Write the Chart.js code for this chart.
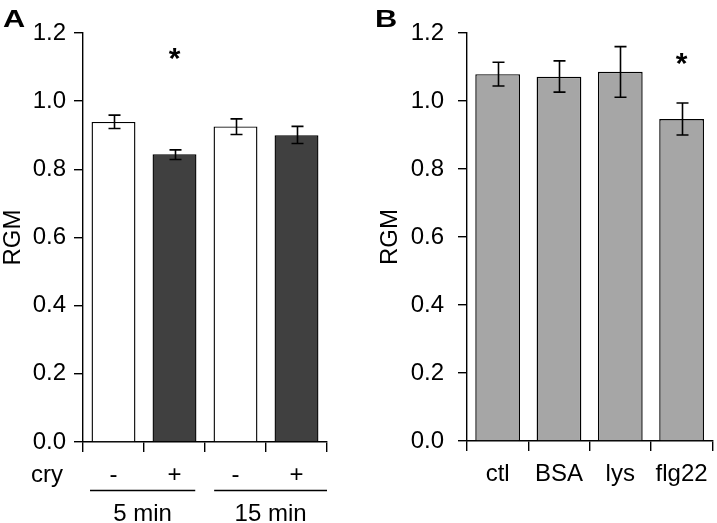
<!DOCTYPE html>
<html><head><meta charset="utf-8">
<script src="https://cdn.jsdelivr.net/npm/chart.js@4"></script>
<style>
html,body{margin:0;padding:0;background:#fff;}
#wrap{position:relative;width:717px;height:523px;overflow:hidden;background:#fff;}
canvas{position:absolute;top:0;}
</style></head><body>
<div id="wrap">
<canvas id="cA" width="358" height="523" style="left:0px"></canvas>
<canvas id="cB" width="359" height="523" style="left:358px"></canvas>
</div>
<script>
// ---- Panel A data ----
const catsA = ['-', '+', '-', '+'];
const meansA = [0.939, 0.844, 0.926, 0.900];
const errLowA = [0.920, 0.829, 0.902, 0.876];
const errHighA = [0.959, 0.857, 0.948, 0.926];
const colorsA = ['#ffffff', '#404040', '#ffffff', '#404040'];
const sigA = [null, 1.147, null, null];
const groupsA = ['5 min', '15 min'];
const groupSpansA = [[-0.385, 1.34], [1.65, 3.5]];  // underline extent in category units
const rowLabelA = 'cry';

// ---- Panel B data ----
const catsB = ['ctl', 'BSA', 'lys', 'flg22'];
const meansB = [1.079, 1.071, 1.086, 0.947];
const errLowB = [1.044, 1.026, 1.011, 0.900];
const errHighB = [1.114, 1.118, 1.160, 0.994];
const colorsB = ['#a6a6a6', '#a6a6a6', '#a6a6a6', '#a6a6a6'];
const sigB = [null, null, null, 1.13];

// ---- shared ----
const yTickLabels = ['0.0', '0.2', '0.4', '0.6', '0.8', '1.0', '1.2'];
const yTitle = 'RGM';

const FONT = "'Liberation Sans', Arial, Helvetica, sans-serif";
const FS = 24;

const annot = {
  id: 'annot',
  afterDatasetsDraw(chart, args, o) {
    const ctx = chart.ctx, xs = chart.scales.x, ys = chart.scales.y;
    ctx.save();
    ctx.strokeStyle = '#000';
    ctx.lineWidth = 1.6;
    o.low.forEach((lo, i) => {
      const x = Math.round(xs.getPixelForValue(i)) + 0.5;
      const y1 = ys.getPixelForValue(lo), y2 = ys.getPixelForValue(o.high[i]);
      ctx.beginPath();
      ctx.moveTo(x, y1); ctx.lineTo(x, y2);
      ctx.moveTo(x - 6, y1); ctx.lineTo(x + 6, y1);
      ctx.moveTo(x - 6, y2); ctx.lineTo(x + 6, y2);
      ctx.stroke();
    });
    // significance stars
    ctx.fillStyle = '#000';
    ctx.font = 'bold 30px ' + FONT;
    ctx.textAlign = 'center';
    ctx.textBaseline = 'alphabetic';
    o.sig.forEach((s, i) => {
      if (s == null) return;
      const x = xs.getPixelForValue(i);
      const y = ys.getPixelForValue(s);
      ctx.fillText('*', x, y + 16.5);
    });
    // panel letter (slightly wide bold face)
    ctx.save();
    ctx.font = 'bold 24px ' + FONT;
    ctx.textAlign = 'left';
    ctx.translate(o.letterX, 27);
    ctx.scale(1.28, 1);
    ctx.fillText(o.letter, 0, 0);
    ctx.restore();
    // grouping row (panel A)
    if (o.groups) {
      const base = xs.top;
      ctx.font = FS + 'px ' + FONT;
      ctx.textAlign = 'center';
      ctx.textBaseline = 'middle';
      ctx.fillText(o.rowLabel, 47, base + 10 + 9 + FS * 0.6);
      ctx.lineWidth = 1.5;
      o.groups.forEach((g, k) => {
        const a = xs.getPixelForValue(o.spans[k][0]), b = xs.getPixelForValue(o.spans[k][1]);
        const yl = Math.round(base + 48) + 0.5;
        ctx.beginPath();
        ctx.moveTo(a, yl);
        ctx.lineTo(b, yl);
        ctx.stroke();
        ctx.textBaseline = 'alphabetic';
        ctx.fillText(g, (a + b) / 2, base + 79);
      });
    }
    ctx.restore();
  }
};

function makeChart(id, cats, means, colors, low, high, sig, cfg) {
  return new Chart(document.getElementById(id), {
    type: 'bar',
    data: {
      labels: cats,
      datasets: [{
        data: means,
        backgroundColor: colors,
        borderColor: '#000',
        borderWidth: 1.4,
        barPercentage: cfg.barPct,
        categoryPercentage: 1.0
      }]
    },
    options: {
      responsive: false,
      animation: false,
      devicePixelRatio: 1,
      layout: { padding: { top: 33, right: cfg.padRight, left: 0, bottom: 0 } },
      plugins: {
        legend: { display: false },
        tooltip: { enabled: false },
        annot: {
          low: low, high: high, sig: sig,
          letter: cfg.letter, letterX: cfg.letterX,
          groups: cfg.groups, spans: cfg.spans, rowLabel: cfg.rowLabel
        }
      },
      scales: {
        x: {
          afterFit: (s) => { s.height = cfg.xHeight; },
          offset: true,
          grid: { display: true, drawOnChartArea: false, offset: true, tickLength: 10, color: '#000', lineWidth: 1.4 },
          border: { display: true, color: '#000', width: 1.4 },
          ticks: { color: '#000', padding: 9, font: { family: FONT, size: FS }, maxRotation: 0, autoSkip: false }
        },
        y: {
          min: 0, max: 1.2,
          afterFit: (s) => { s.width = cfg.yWidth; },
          grid: { display: true, drawOnChartArea: false, tickLength: 9, color: '#000', lineWidth: 1.4 },
          border: { display: true, color: '#000', width: 1.4 },
          ticks: {
            stepSize: 0.2, color: '#000', padding: cfg.yTickPad,
            font: { family: FONT, size: FS },
            callback: (v) => yTickLabels[Math.round(v / 0.2)]
          },
          title: {
            display: true, text: yTitle, color: '#000',
            font: { family: FONT, size: FS, lineHeight: 1 },
            padding: { top: cfg.titlePad, bottom: 0 }
          }
        }
      }
    },
    plugins: [annot]
  });
}

makeChart('cA', catsA, meansA, colorsA, errLowA, errHighA, sigA, {
  barPct: 0.72, padRight: 31, xHeight: 81, yWidth: 83, yTickPad: 8, titlePad: 1,
  letter: 'A', letterX: 3, groups: groupsA, spans: groupSpansA, rowLabel: rowLabelA
});
makeChart('cB', catsB, meansB, colorsB, errLowB, errHighB, sigB, {
  barPct: 0.73, padRight: 3, xHeight: 82, yWidth: 109, yTickPad: 14, titlePad: 20,
  letter: 'B', letterX: 17, groups: null, spans: null, rowLabel: null
});
</script>
</body></html>
